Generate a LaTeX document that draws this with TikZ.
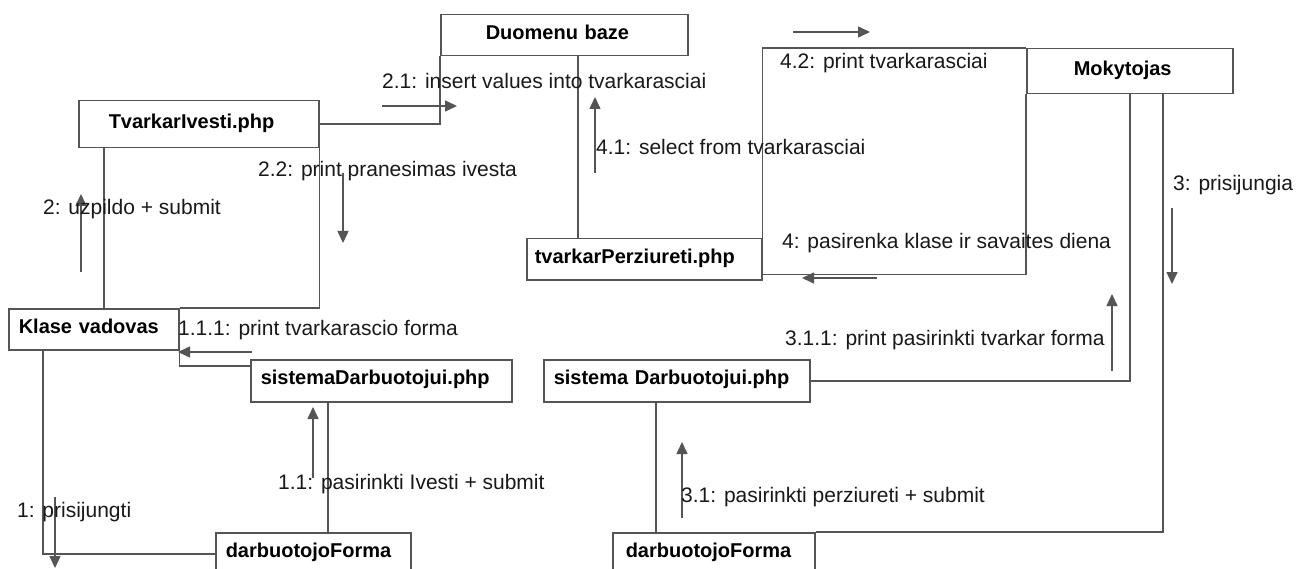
\documentclass[tikz,border=0pt]{standalone}
\usepackage{fontspec}
\setmainfont{Liberation Sans}
\usetikzlibrary{arrows.meta}
\definecolor{linec}{RGB}{85,85,85}
\definecolor{txtc}{RGB}{25,25,25}
\begin{document}
\begin{tikzpicture}[x=1pt,y=-1pt,
  obj/.style={draw=linec, line width=1.5pt, fill=white, text=black,
    font=\bfseries\fontsize{20}{24}\selectfont, anchor=north west,
    inner ysep=0pt, align=left, text height=14pt, text depth=6pt},
  lbl/.style={anchor=base west, inner sep=0pt, text=txtc, font=\fontsize{21}{25}\selectfont},
  link/.style={draw=linec, line width=1.5pt},
  msg/.style={draw=linec, line width=1.5pt, -{Triangle[width=11pt,length=12pt]}}]
\clip (0,0) rectangle (1300,569);
\fill[white] (0,0) rectangle (1300,569);

% objects
\node[obj, inner xsep=45pt, text width=157pt, minimum height=41pt] (db) at (440,14) {Duomenu baze};
\node[obj, inner xsep=30pt, text width=180pt, minimum height=47pt] (tv) at (78,100) {TvarkarIvesti.php};
\node[obj, inner xsep=47pt, text width=112pt, minimum height=45pt] (mk) at (1026,48) {Mokytojas};
\node[obj, inner xsep=8pt, text width=219pt, minimum height=41pt] (tp) at (526,238) {tvarkarPerziureti.php};
\node[obj, inner xsep=10pt, text width=150pt, minimum height=41pt] (kv) at (8,308) {Klase vadovas};
\node[obj, inner xsep=10pt, text width=241pt, minimum height=42pt] (sl) at (250,359) {sistemaDarbuotojui.php};
\node[obj, inner xsep=10pt, text width=246pt, minimum height=42pt] (sr) at (543,359) {sistema Darbuotojui.php};
\node[obj, inner xsep=10pt, text width=175pt, minimum height=42pt] (dl) at (215,532) {darbuotojoForma};
\node[obj, inner xsep=13pt, text width=176pt, minimum height=42pt] (dr) at (612,532) {darbuotojoForma};

% links
\draw[link] (tv.east) -| (db.south west);
\draw[link] ([xshift=26pt]tv.south west) -- ([xshift=26pt]tv.south west |- kv.north);
\draw[link] (tv.south east) |- (kv.north east);
\draw[link] ([xshift=138pt]db.south west) -- ([xshift=138pt]db.south west |- tp.north);
\draw[link] (tp.north east) |- (mk.north west);
\draw[link] ([yshift=6pt]tp.south east) -| (mk.south west);
\draw[link] (mk.south) |- (sr.east);
\draw[link] ([xshift=137pt]mk.south west) |- (dr.north east);
\draw[link] ([xshift=113pt]sr.south west) -- ([xshift=113pt]sr.south west |- dr.north);
\draw[link] ([xshift=35pt]kv.south west) |- (dl.west);
\draw[link] (kv.south east) |- ([yshift=-7pt]sl.north west);
\draw[link] ([xshift=78pt]sl.south west) -- ([xshift=78pt]sl.south west |- dl.north);

% message arrows
\coordinate (a21s) at (382,106);  \coordinate (a21e) at (457,106);
\coordinate (a22s) at (343,173);  \coordinate (a22e) at (343,243);
\coordinate (a2s) at (81,272);    \coordinate (a2e) at (81,194);
\coordinate (a41s) at (595,173);  \coordinate (a41e) at (595,97);
\coordinate (a42s) at (793,32);   \coordinate (a42e) at (870,32);
\coordinate (a4s) at (877,278);   \coordinate (a4e) at (802,278);
\coordinate (a3s) at (1172,208);  \coordinate (a3e) at (1172,284);
\coordinate (a311s) at (1112,371); \coordinate (a311e) at (1112,294);
\coordinate (a111s) at (252,352); \coordinate (a111e) at (178,352);
\coordinate (a11s) at (313,478);  \coordinate (a11e) at (313,407);
\coordinate (a1s) at (55,497);    \coordinate (a1e) at (55,568);
\coordinate (a31s) at (682,518);  \coordinate (a31e) at (682,442);
\draw[msg] (a21s) -- (a21e);
\draw[msg] (a22s) -- (a22e);
\draw[msg] (a2s) -- (a2e);
\draw[msg] (a41s) -- (a41e);
\draw[msg] (a42s) -- (a42e);
\draw[msg] (a4s) -- (a4e);
\draw[msg] (a3s) -- (a3e);
\draw[msg] (a311s) -- (a311e);
\draw[msg] (a111s) -- (a111e);
\draw[msg] (a11s) -- (a11e);
\draw[msg] (a1s) -- (a1e);
\draw[msg] (a31s) -- (a31e);

% labels
\node[lbl] (t21) at (382,89) {2.1: insert values into tvarkarasciai};
\node[lbl] (t22) at (258,177) {2.2: print pranesimas ivesta};
\node[lbl] (t2) at (43,215) {2: uzpildo + submit};
\node[lbl] (t41) at (596,155) {4.1: select from tvarkarasciai};
\node[lbl] (t42) at (780,69) {4.2: print tvarkarasciai};
\node[lbl] (t4) at (782,248) {4: pasirenka klase ir savaites diena};
\node[lbl] (t3) at (1173,191) {3: prisijungia};
\node[lbl] (t311) at (785,345) {3.1.1: print pasirinkti tvarkar forma};
\node[lbl] (t111) at (178,335) {1.1.1: print tvarkarascio forma};
\node[lbl] (t11) at (278,489) {1.1: pasirinkti Ivesti + submit};
\node[lbl] (t1) at (17,517) {1: prisijungti};
\node[lbl] (t31) at (681,502) {3.1: pasirinkti perziureti + submit};
\end{tikzpicture}
\end{document}
